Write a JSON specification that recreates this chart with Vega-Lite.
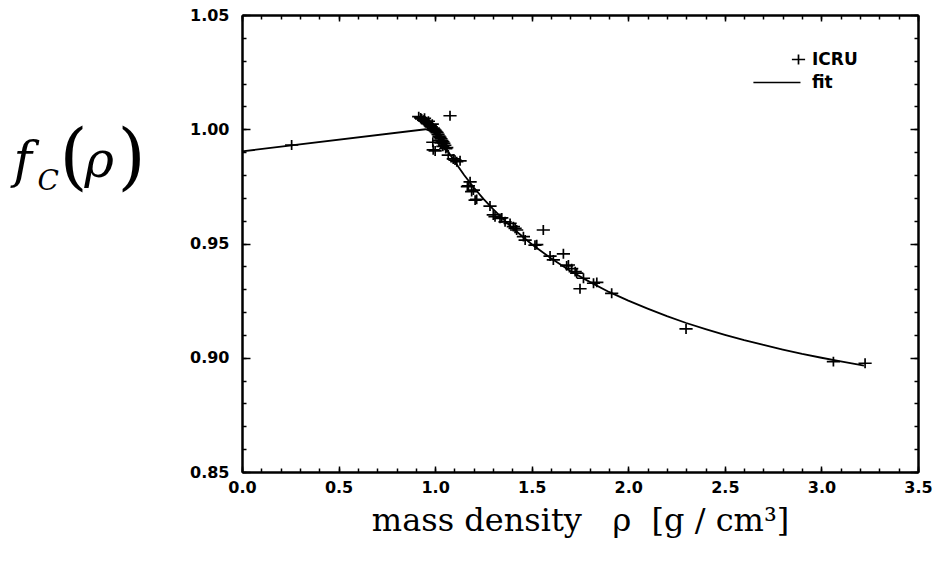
{
  "$schema": "https://vega.github.io/schema/vega-lite/v6.json",
  "width": 676,
  "height": 457,
  "autosize": {"type": "none"},
  "padding": {"left": 242, "top": 15, "right": 16, "bottom": 90},
  "background": "white",
  "datasets": {
    "icru": [
      {"rho": 0.257, "f": 0.9931, "series": "ICRU"},
      {"rho": 0.915, "f": 1.0055, "series": "ICRU"},
      {"rho": 0.925, "f": 1.005, "series": "ICRU"},
      {"rho": 0.93, "f": 1.0045, "series": "ICRU"},
      {"rho": 0.94, "f": 1.004, "series": "ICRU"},
      {"rho": 0.945, "f": 1.0048, "series": "ICRU"},
      {"rho": 0.95, "f": 1.0035, "series": "ICRU"},
      {"rho": 0.955, "f": 1.003, "series": "ICRU"},
      {"rho": 0.96, "f": 1.0025, "series": "ICRU"},
      {"rho": 0.965, "f": 1.0035, "series": "ICRU"},
      {"rho": 0.97, "f": 1.002, "series": "ICRU"},
      {"rho": 0.975, "f": 1.0015, "series": "ICRU"},
      {"rho": 0.98, "f": 1.001, "series": "ICRU"},
      {"rho": 0.985, "f": 1.0022, "series": "ICRU"},
      {"rho": 0.99, "f": 1.0005, "series": "ICRU"},
      {"rho": 0.995, "f": 1.0, "series": "ICRU"},
      {"rho": 1.0, "f": 0.9995, "series": "ICRU"},
      {"rho": 1.005, "f": 0.999, "series": "ICRU"},
      {"rho": 1.01, "f": 0.9985, "series": "ICRU"},
      {"rho": 1.015, "f": 0.9978, "series": "ICRU"},
      {"rho": 1.02, "f": 0.997, "series": "ICRU"},
      {"rho": 1.025, "f": 0.9965, "series": "ICRU"},
      {"rho": 1.03, "f": 0.9958, "series": "ICRU"},
      {"rho": 1.035, "f": 0.995, "series": "ICRU"},
      {"rho": 1.04, "f": 0.9945, "series": "ICRU"},
      {"rho": 1.045, "f": 0.9938, "series": "ICRU"},
      {"rho": 1.05, "f": 0.993, "series": "ICRU"},
      {"rho": 1.03, "f": 0.994, "series": "ICRU"},
      {"rho": 1.02, "f": 0.995, "series": "ICRU"},
      {"rho": 1.04, "f": 0.9925, "series": "ICRU"},
      {"rho": 1.055, "f": 0.9915, "series": "ICRU"},
      {"rho": 1.06, "f": 0.992, "series": "ICRU"},
      {"rho": 0.99, "f": 0.991, "series": "ICRU"},
      {"rho": 1.0, "f": 0.9905, "series": "ICRU"},
      {"rho": 0.988, "f": 0.9943, "series": "ICRU"},
      {"rho": 1.077, "f": 1.0059, "series": "ICRU"},
      {"rho": 1.068, "f": 0.9887, "series": "ICRU"},
      {"rho": 1.094, "f": 0.987, "series": "ICRU"},
      {"rho": 1.103, "f": 0.9865, "series": "ICRU"},
      {"rho": 1.112, "f": 0.9858, "series": "ICRU"},
      {"rho": 1.129, "f": 0.9862, "series": "ICRU"},
      {"rho": 1.167, "f": 0.9749, "series": "ICRU"},
      {"rho": 1.172, "f": 0.9752, "series": "ICRU"},
      {"rho": 1.181, "f": 0.977, "series": "ICRU"},
      {"rho": 1.189, "f": 0.9727, "series": "ICRU"},
      {"rho": 1.198, "f": 0.9734, "series": "ICRU"},
      {"rho": 1.207, "f": 0.969, "series": "ICRU"},
      {"rho": 1.215, "f": 0.9693, "series": "ICRU"},
      {"rho": 1.284, "f": 0.9664, "series": "ICRU"},
      {"rho": 1.301, "f": 0.9625, "series": "ICRU"},
      {"rho": 1.31, "f": 0.9617, "series": "ICRU"},
      {"rho": 1.336, "f": 0.961, "series": "ICRU"},
      {"rho": 1.345, "f": 0.9612, "series": "ICRU"},
      {"rho": 1.362, "f": 0.9595, "series": "ICRU"},
      {"rho": 1.388, "f": 0.9588, "series": "ICRU"},
      {"rho": 1.405, "f": 0.9574, "series": "ICRU"},
      {"rho": 1.414, "f": 0.9566, "series": "ICRU"},
      {"rho": 1.422, "f": 0.9559, "series": "ICRU"},
      {"rho": 1.457, "f": 0.953, "series": "ICRU"},
      {"rho": 1.466, "f": 0.9515, "series": "ICRU"},
      {"rho": 1.517, "f": 0.9493, "series": "ICRU"},
      {"rho": 1.526, "f": 0.9495, "series": "ICRU"},
      {"rho": 1.56, "f": 0.9559, "series": "ICRU"},
      {"rho": 1.595, "f": 0.9445, "series": "ICRU"},
      {"rho": 1.612, "f": 0.9428, "series": "ICRU"},
      {"rho": 1.664, "f": 0.9455, "series": "ICRU"},
      {"rho": 1.681, "f": 0.9402, "series": "ICRU"},
      {"rho": 1.69, "f": 0.9406, "series": "ICRU"},
      {"rho": 1.707, "f": 0.939, "series": "ICRU"},
      {"rho": 1.725, "f": 0.9377, "series": "ICRU"},
      {"rho": 1.733, "f": 0.937, "series": "ICRU"},
      {"rho": 1.75, "f": 0.9302, "series": "ICRU"},
      {"rho": 1.768, "f": 0.9348, "series": "ICRU"},
      {"rho": 1.82, "f": 0.9326, "series": "ICRU"},
      {"rho": 1.837, "f": 0.933, "series": "ICRU"},
      {"rho": 1.914, "f": 0.9282, "series": "ICRU"},
      {"rho": 2.299, "f": 0.9126, "series": "ICRU"},
      {"rho": 3.062, "f": 0.8983, "series": "ICRU"},
      {"rho": 3.226, "f": 0.8976, "series": "ICRU"}
    ],
    "fit": [
      {"rho": 0.0, "f": 0.9903},
      {"rho": 0.95, "f": 1.0},
      {"rho": 1.0, "f": 0.9985},
      {"rho": 1.05, "f": 0.9925},
      {"rho": 1.1, "f": 0.986},
      {"rho": 1.15, "f": 0.98},
      {"rho": 1.2, "f": 0.9745},
      {"rho": 1.25, "f": 0.9695},
      {"rho": 1.3, "f": 0.965},
      {"rho": 1.4, "f": 0.9568},
      {"rho": 1.5, "f": 0.9497},
      {"rho": 1.6, "f": 0.9435},
      {"rho": 1.7, "f": 0.938},
      {"rho": 1.8, "f": 0.9332},
      {"rho": 1.9, "f": 0.9288},
      {"rho": 2.0, "f": 0.925},
      {"rho": 2.1, "f": 0.9215},
      {"rho": 2.2, "f": 0.9182},
      {"rho": 2.3, "f": 0.9152},
      {"rho": 2.4, "f": 0.9125},
      {"rho": 2.5, "f": 0.91},
      {"rho": 2.6, "f": 0.9077},
      {"rho": 2.7, "f": 0.9056},
      {"rho": 2.8, "f": 0.9036},
      {"rho": 2.9, "f": 0.9017},
      {"rho": 3.0, "f": 0.9},
      {"rho": 3.1, "f": 0.8984},
      {"rho": 3.2, "f": 0.8969},
      {"rho": 3.22, "f": 0.8966}
    ]
  },
  "config": {
    "view": {"stroke": null},
    "axis": {
      "domainColor": "black",
      "domainWidth": 2,
      "tickColor": "black",
      "tickWidth": 1.5,
      "grid": false,
      "labelFont": "DejaVu Sans",
      "labelFontWeight": "bold",
      "labelFontSize": 16,
      "labelColor": "black",
      "labelFlush": false,
      "labelOverlap": false,
      "titleColor": "black",
      "titleFontWeight": "normal",
      "titleFont": "DejaVu Serif"
    }
  },
  "resolve": {"axis": {"x": "independent", "y": "independent"}},
  "layer": [
    {
      "data": {"name": "fit"},
      "mark": {"type": "line", "color": "black", "strokeWidth": 1.8},
      "encoding": {
        "x": {
          "field": "rho", "type": "quantitative",
          "scale": {"domain": [0, 3.5], "nice": false, "zero": false},
          "axis": {
            "orient": "bottom",
            "values": [0, 0.5, 1, 1.5, 2, 2.5, 3, 3.5],
            "format": ".1f",
            "tickSize": -6,
            "labelPadding": 13,
            "title": "mass density\u00a0\u00a0\u00a0ρ\u00a0\u00a0[g / cm³]",
            "titleFontSize": 32,
            "titleBaseline": "alphabetic",
            "titleAlign": "center",
            "titleX": 338,
            "titleY": 58
          }
        },
        "y": {
          "field": "f", "type": "quantitative",
          "scale": {"domain": [0.85, 1.05], "nice": false, "zero": false},
          "axis": {
            "orient": "left",
            "values": [0.85, 0.9, 0.95, 1.0, 1.05],
            "format": ".2f",
            "tickSize": -8,
            "labelPadding": 21,
            "title": "f",
            "titleFontSize": 50,
            "titleFontStyle": "italic",
            "titleAngle": 0,
            "titleAlign": "left",
            "titleBaseline": "alphabetic",
            "titleX": -229,
            "titleY": 161
          }
        }
      }
    },
    {
      "data": {"name": "icru"},
      "mark": {"type": "point", "filled": false, "color": "black", "strokeWidth": 1.7, "size": 121, "opacity": 1},
      "encoding": {
        "x": {
          "field": "rho", "type": "quantitative",
          "scale": {"domain": [0, 3.5], "nice": false, "zero": false},
          "axis": {
            "orient": "bottom",
            "values": [0, 0.1, 0.2, 0.3, 0.4, 0.5, 0.6, 0.7, 0.8, 0.9, 1, 1.1, 1.2, 1.3, 1.4, 1.5, 1.6, 1.7, 1.8, 1.9, 2, 2.1, 2.2, 2.3, 2.4, 2.5, 2.6, 2.7, 2.8, 2.9, 3, 3.1, 3.2, 3.3, 3.4, 3.5],
            "labels": false,
            "tickSize": -4,
            "title": null
          }
        },
        "y": {
          "field": "f", "type": "quantitative",
          "scale": {"domain": [0.85, 1.05], "nice": false, "zero": false},
          "axis": {
            "orient": "left",
            "values": [0.85, 0.86, 0.87, 0.88, 0.89, 0.9, 0.91, 0.92, 0.93, 0.94, 0.95, 0.96, 0.97, 0.98, 0.99, 1.0, 1.01, 1.02, 1.03, 1.04, 1.05],
            "labels": false,
            "tickSize": -4,
            "title": "C",
            "titleFontSize": 28,
            "titleFontStyle": "italic",
            "titleAngle": 0,
            "titleAlign": "left",
            "titleBaseline": "alphabetic",
            "titleX": -205,
            "titleY": 174
          }
        },
        "shape": {
          "field": "series", "type": "nominal",
          "scale": {"domain": ["ICRU", "fit"], "range": ["M-8.2,0M-1.2,0L1.2,0M0,-0.9L0,0.9", "M-8.2,0L0.36,0"]},
          "legend": {
            "title": null,
            "orient": "none",
            "legendX": 548,
            "legendY": 36,
            "padding": 0,
            "symbolSize": 121,
            "symbolStrokeWidth": 1.7,
            "symbolStrokeColor": "black",
            "symbolFillColor": "transparent",
            "labelFont": "DejaVu Sans",
            "labelFontWeight": "bold",
            "labelFontSize": 17,
            "labelColor": "black",
            "labelOffset": 5,
            "rowPadding": 5
          }
        }
      }
    },
    {
      "data": {"name": "icru"},
      "mark": {"type": "point", "opacity": 0},
      "encoding": {
        "x": {
          "field": "rho", "type": "quantitative",
          "scale": {"domain": [0, 3.5], "nice": false, "zero": false},
          "axis": {
            "orient": "top",
            "values": [0, 0.1, 0.2, 0.3, 0.4, 0.5, 0.6, 0.7, 0.8, 0.9, 1, 1.1, 1.2, 1.3, 1.4, 1.5, 1.6, 1.7, 1.8, 1.9, 2, 2.1, 2.2, 2.3, 2.4, 2.5, 2.6, 2.7, 2.8, 2.9, 3, 3.1, 3.2, 3.3, 3.4, 3.5],
            "labels": false,
            "tickSize": -4,
            "title": "ρ",
            "titleFontSize": 50,
            "titleFontStyle": "italic",
            "titleAngle": 0,
            "titleAlign": "left",
            "titleBaseline": "alphabetic",
            "titleX": -158,
            "titleY": 161
          }
        },
        "y": {
          "field": "f", "type": "quantitative",
          "scale": {"domain": [0.85, 1.05], "nice": false, "zero": false},
          "axis": {
            "orient": "right",
            "values": [0.85, 0.86, 0.87, 0.88, 0.89, 0.9, 0.91, 0.92, 0.93, 0.94, 0.95, 0.96, 0.97, 0.98, 0.99, 1.0, 1.01, 1.02, 1.03, 1.04, 1.05],
            "labels": false,
            "tickSize": -4,
            "title": "(",
            "titleFontSize": 72,
            "titleAngle": 0,
            "titleAlign": "left",
            "titleBaseline": "alphabetic",
            "titleX": -859,
            "titleY": 165.6
          }
        }
      }
    },
    {
      "data": {"name": "icru"},
      "mark": {"type": "point", "opacity": 0},
      "encoding": {
        "x": {
          "field": "rho", "type": "quantitative",
          "scale": {"domain": [0, 3.5], "nice": false, "zero": false},
          "axis": {
            "orient": "top",
            "values": [0, 0.5, 1, 1.5, 2, 2.5, 3, 3.5],
            "labels": false,
            "tickSize": -6,
            "title": null
          }
        },
        "y": {
          "field": "f", "type": "quantitative",
          "scale": {"domain": [0.85, 1.05], "nice": false, "zero": false},
          "axis": {
            "orient": "right",
            "values": [0.85, 0.9, 0.95, 1.0, 1.05],
            "labels": false,
            "tickSize": -8,
            "title": ")",
            "titleFontSize": 72,
            "titleAngle": 0,
            "titleAlign": "left",
            "titleBaseline": "alphabetic",
            "titleX": -801,
            "titleY": 165.6
          }
        }
      }
    }
  ]
}
